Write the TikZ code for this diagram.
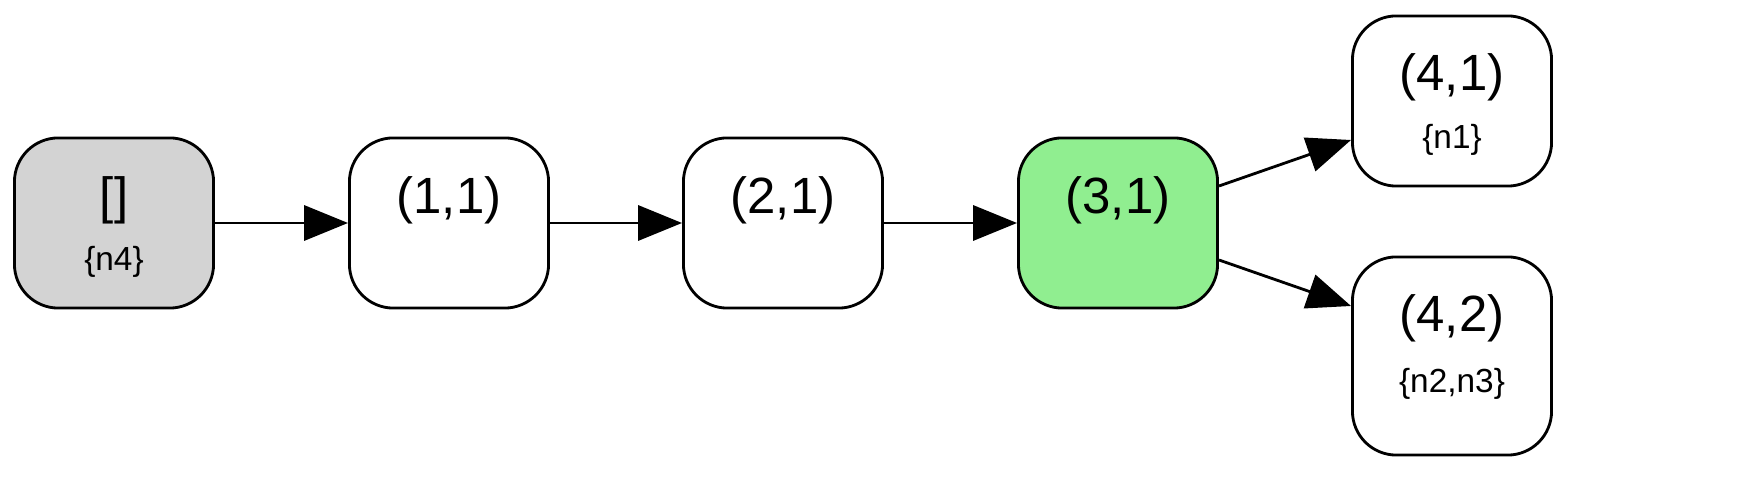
\documentclass[tikz,border=0pt]{standalone}
\usepackage{fontspec}
\setmainfont{Liberation Sans}
\usetikzlibrary{arrows.meta,calc}
\definecolor{boxgray}{HTML}{D3D3D3}
\definecolor{boxgreen}{HTML}{90EE90}
\tikzset{
	state/.style={draw, line width=1.6pt, rounded corners=25pt, minimum width=4.04cm-1.6pt, minimum height=3.46cm-1.6pt, inner sep=0pt},
	big/.style={font=\fontsize{29}{32}\selectfont},
	sub/.style={font=\fontsize{19}{21}\selectfont},
	edge/.style={line width=1.6pt, -{Triangle[length=25pt, width=20pt]}}
}
\begin{document}
\begin{tikzpicture}[x=0.02cm, y=-0.02cm]
	\useasboundingbox (0,0) rectangle (1758,499);
	\node[state, fill=boxgray] (n4) at (114,223) {};
	\node[state] (n11) at (449,223) {};
	\node[state] (n21) at (783,223) {};
	\node[state, fill=boxgreen] (n31) at (1118,223) {};
	\node[state] (n41) at (1452,101) {};
	\node[state, minimum height=4.02cm-1.6pt] (n42) at (1452,356) {};
	% labels
	\node[big] (t4) at (114,200) {[]};
	\node[sub] (s4) at (114,262) {\{n4\}};
	\node[big] (t11) at (449,200) {(1,1)};
	\node[big] (t21) at (783,200) {(2,1)};
	\node[big] (t31) at (1118,200) {(3,1)};
	\node[big] (t41) at (1452,77) {(4,1)};
	\node[sub] (s41) at (1452,140) {\{n1\}};
	\node[big] (t42) at (1452,318) {(4,2)};
	\node[sub] (s42) at (1452,384) {\{n2,n3\}};
	% edges
	\draw[edge] (n4.east) -- (n11.west);
	\draw[edge] (n11.east) -- (n21.west);
	\draw[edge] (n21.east) -- (n31.west);
	\draw[edge] ($(n31.east)+(0,-37)$) -- ($(n41.west)+(0,39)$);
	\draw[edge] ($(n31.east)+(0,37)$) -- ($(n42.west)+(0,-50)$);
\end{tikzpicture}
\end{document}
